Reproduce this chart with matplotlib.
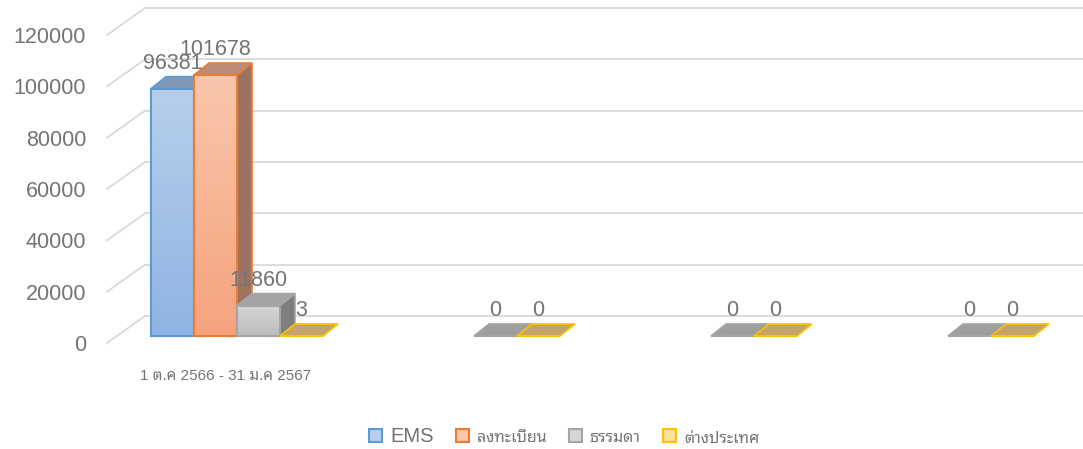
import numpy as np
import matplotlib
matplotlib.use("Agg")
import matplotlib.pyplot as plt
from matplotlib.patches import Polygon, Patch
from matplotlib.colors import LinearSegmentedColormap

categories = ["1 ต.ค 2566 - 31 ม.ค 2567", "", "", ""]
series = ["EMS", "ลงทะเบียน", "ธรรมดา", "ต่างประเทศ"]
ems = [96381, None, None, None]
registered = [101678, None, None, None]
ordinary = [11860, 0, 0, 0]
overseas = [3, 0, 0, 0]
values = [ems, registered, ordinary, overseas]
yticks = [0, 20000, 40000, 60000, 80000, 100000, 120000]

# face colours: front gradient (top, bottom), top face, side face, outline
grad = [("#b7cfeb", "#90b4e3"), ("#f9c6ab", "#f5a37d"),
        ("#d6d6d6", "#bcbcbc"), ("#ffe29a", "#ffd466")]
top_col = ["#8299b6", "#bb8d77", "#a4a4a4", "#c4a46e"]
side_col = ["#6f87a6", "#9c7262", "#7e7e7e", "#a88c5a"]
edge = ["#5b9bd5", "#ed7d31", "#a5a5a5", "#ffc000"]
flat_top = ["#8299b6", "#bb8d77", "#9e9e9e", "#c4a46e"]
txt = "#747474"

plt.rcParams["font.family"] = ["Liberation Sans", "Noto Sans Thai Looped",
                               "Noto Sans Thai", "IBM Plex Sans Thai Looped",
                               "Sarabun", "DejaVu Sans"]

W, H = 1083, 449
fig = plt.figure(figsize=(W / 100, H / 100), dpi=100)
ax = fig.add_axes([107 / W, (H - 343) / H, 938 / W, 308 / H])
sx = 237              # px per category
sy = 308 / 120000     # px per unit value
xmin, xmax = -0.5, -0.5 + 938 / sx

# back wall / floor offset and bar offsets (in data units)
bx, by = 38 / sx, 27 / sy
fy = 7 / sy
ddx, ddy = 15 / sx, 12 / sy
w = 43 / sx
fx = 44 / sx - 0.5 + 2 * w

for v in yticks:
    ax.plot([xmin, xmin + bx], [v, v + by], color="#d9d9d9", lw=1.3,
            clip_on=False, zorder=0)
    ax.plot([xmin + bx, xmax + bx], [v + by, v + by], color="#d9d9d9", lw=1.3,
            clip_on=False, zorder=0)

for j in range(len(categories)):
    for i in range(len(series)):
        v = values[i][j]
        if v is None:
            continue
        x0 = j + fx + (i - 2) * w
        y0, y1 = fy, fy + v
        z = 2 + j * 10 + i
        if v > 500:
            side = [(x0 + w, y0), (x0 + w + ddx, y0 + ddy),
                    (x0 + w + ddx, y1 + ddy), (x0 + w, y1)]
            ax.add_patch(Polygon(side, closed=True, facecolor=side_col[i],
                                 edgecolor=edge[i], lw=1.2, zorder=z,
                                 clip_on=False))
            tc = top_col[i]
        else:
            tc = flat_top[i]
        top = [(x0, y1), (x0 + ddx, y1 + ddy), (x0 + w + ddx, y1 + ddy),
               (x0 + w, y1)]
        ax.add_patch(Polygon(top, closed=True, facecolor=tc,
                             edgecolor=edge[i], lw=1.2, zorder=z,
                             clip_on=False))
        bar = ax.bar(x0, v, w, bottom=y0, align="edge", color=grad[i][1],
                     edgecolor=edge[i], lw=1.5, zorder=z)[0]
        if v > 500:
            g = np.linspace(0, 1, 64).reshape(-1, 1)
            cm = LinearSegmentedColormap.from_list("g", [grad[i][0], grad[i][1]])
            im = ax.imshow(g, cmap=cm, extent=[x0, x0 + w, y0, y1],
                           aspect="auto", zorder=z, origin="upper")
            im.set_clip_path(bar)
            ax.add_patch(plt.Rectangle((x0, y0), w, v, fill=False,
                                       edgecolor=edge[i], lw=1.5, zorder=z))
        ax.annotate(str(v), (x0 + w / 2, y1 + ddy), xytext=(0, 2),
                    textcoords="offset points", ha="center", va="bottom",
                    fontsize=15.5, color=txt, zorder=100,
                    annotation_clip=False)

ax.set_xlim(xmin, xmax)
ax.set_ylim(0, 120000)
for s in ax.spines.values():
    s.set_visible(False)
ax.set_yticks(yticks)
ax.set_yticklabels([str(t) for t in yticks])
ax.tick_params(axis="y", length=0, pad=15, labelsize=15.5, labelcolor=txt)
ax.set_xticks(range(len(categories)))
ax.set_xticklabels(categories)
ax.tick_params(axis="x", length=0, pad=19, labelsize=11, labelcolor=txt)
ax.patch.set_alpha(0)

handles = [Patch(facecolor=grad[i][0], edgecolor=edge[i], lw=1.5)
           for i in range(len(series))]
leg = fig.legend(handles, series, loc="center",
                 bbox_to_anchor=(564 / W, 1 - 437 / H),
                 ncol=4, frameon=False, fontsize=14.5, labelcolor=txt,
                 handlelength=0.65, handleheight=0.65, handletextpad=0.4,
                 columnspacing=1.1)
for t in leg.get_texts()[1:]:
    t.set_fontsize(11.5)

fig.savefig("out.png", dpi=100)
